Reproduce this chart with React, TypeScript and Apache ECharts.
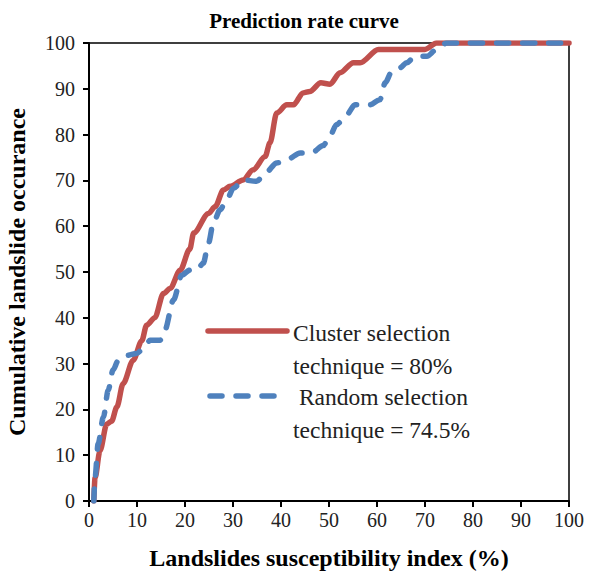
import React, { useEffect, useRef } from "react";
import * as echarts from "echarts";

const xTicks = [0, 10, 20, 30, 40, 50, 60, 70, 80, 90, 100];
const yTicks = [0, 10, 20, 30, 40, 50, 60, 70, 80, 90, 100];

const clusterData: number[][] = [
  [1, 0], [1.25, 5], [2.3, 11], [3.7, 16.8], [4.7, 17.4], [5.8, 20.5], [7.1, 25.6],
  [9.2, 30.7], [11, 35], [12, 38.4], [13.7, 40], [15.5, 45.3], [16.9, 46.4], [19, 50.4],
  [21, 55], [21.8, 58.5], [24.9, 62.8], [26.3, 64.3], [28, 67.9], [29.4, 68.7],
  [32.1, 70.1], [34.2, 72.3], [36.7, 75.2], [37.7, 78.2], [39.1, 84.7], [41.2, 86.5],
  [42.6, 86.5], [44.6, 89.1], [46, 89.4], [48.3, 91.3], [50.2, 91], [52.3, 93.5],
  [55.1, 95.7], [56.5, 95.7], [60.3, 98.6], [70, 98.6], [72.4, 100], [100, 100],
];

const randomData: number[][] = [
  [1, 0], [1.25, 5], [1.9, 12.5], [3, 18.3], [4, 24.2], [5, 28.6], [6.1, 30.7],
  [7.9, 31.8], [9.9, 32.2], [11.7, 33.7], [12.7, 35.1], [14.8, 35.1], [15.8, 37.3],
  [17.6, 43.9], [19.3, 49.3], [21, 50.4], [22.4, 50.4], [23.8, 51.9], [24.9, 56.3],
  [25.9, 60.7], [27.3, 63.6], [28.7, 65.8], [30.1, 68.3], [32.1, 70.1], [34.9, 69.8],
  [37, 71.9], [39.1, 73.8], [41.2, 74.5], [44, 76], [46.5, 76.1], [48.8, 77.6],
  [50.2, 79.8], [51.6, 82.2], [53.7, 84.4], [55.4, 86.5], [58.5, 86.5], [60.6, 87.6],
  [61.7, 91.3], [63.1, 93.8], [64.8, 94.6], [66.2, 95.7], [67.9, 97.1], [70.4, 97.1],
  [72.4, 98.6], [74.5, 100], [100, 100],
];

const seriesNames = ["Cluster selection technique = 80%", "Random selection technique = 74.5%"];
const legendLines = [
  ["Cluster selection", "technique = 80%"],
  [" Random selection", "technique = 74.5%"],
];

const RED = "#C0504D";
const BLUE = "#4F81BD";
const FONT = "Liberation Serif";

export default function App() {
  const ref = useRef<HTMLDivElement>(null);
  useEffect(() => {
    if (!ref.current) return;
    const chart = echarts.init(ref.current, null, { renderer: "svg" });
    chart.setOption({
      animation: false,
      backgroundColor: "#fff",
      title: {
        text: "Prediction rate curve",
        left: 299,
        top: 5,
        textAlign: "center",
        textStyle: { fontFamily: FONT, fontWeight: "bold", fontSize: 21, color: "#000" },
      },
      grid: {
        left: 89,
        right: 21,
        top: 43,
        bottom: 74,
        containLabel: false,
        outerBoundsMode: "none",
        show: true,
        borderColor: "#000",
        borderWidth: 1.5,
        backgroundColor: "transparent",
      },
      xAxis: {
        type: "value",
        min: xTicks[0],
        max: xTicks[xTicks.length - 1],
        interval: 10,
        name: "Landslides susceptibility index (%)",
        nameLocation: "middle",
        nameGap: 45,
        nameTextStyle: { fontFamily: FONT, fontWeight: "bold", fontSize: 24, color: "#000" },
        axisLine: { show: true, lineStyle: { color: "#000", width: 2 } },
        axisTick: { show: true, length: 6, lineStyle: { color: "#000", width: 2 } },
        axisLabel: { fontFamily: FONT, fontSize: 20, color: "#222", margin: 9 },
        splitLine: { show: false },
      },
      yAxis: {
        type: "value",
        min: yTicks[0],
        max: yTicks[yTicks.length - 1],
        interval: 10,
        name: "Cumulative landslide occurance",
        nameLocation: "middle",
        nameGap: 60,
        nameTextStyle: { fontFamily: FONT, fontWeight: "bold", fontSize: 24, color: "#000" },
        axisLine: { show: true, lineStyle: { color: "#000", width: 2 } },
        axisTick: { show: true, length: 6, lineStyle: { color: "#000", width: 2 } },
        axisLabel: { fontFamily: FONT, fontSize: 20, color: "#222", margin: 14 },
        splitLine: { show: false },
      },
      series: [
        {
          name: seriesNames[0],
          type: "line",
          data: clusterData,
          showSymbol: false,
          smooth: 0.3,
          smoothMonotone: "x",
          lineStyle: { color: RED, width: 5.5, cap: "round", join: "round" },
          z: 2,
        },
        {
          name: seriesNames[1],
          type: "line",
          data: randomData,
          showSymbol: false,
          smooth: 0.3,
          smoothMonotone: "x",
          lineStyle: { color: BLUE, width: 5.5, type: [12, 14], cap: "round", join: "round" },
          z: 3,
        },
      ],
      graphic: [
        {
          type: "line",
          shape: { x1: 208, y1: 331, x2: 287, y2: 331 },
          style: { stroke: RED, lineWidth: 5.5, lineCap: "round" },
        },
        {
          type: "line",
          shape: { x1: 210, y1: 396, x2: 282, y2: 396 },
          style: { stroke: BLUE, lineWidth: 5.5, lineCap: "round", lineDash: [12, 14] },
        },
        ...legendLines.flatMap((lines, i) =>
          lines.map((t, j) => ({
            type: "text",
            x: 293,
            y: 333 + i * 64 + j * 33,
            style: {
              text: t,
              fontFamily: FONT,
              fontSize: 23.5,
              fill: "#222",
              textVerticalAlign: "middle",
              verticalAlign: "middle",
            },
          }))
        ),
      ],
    });
    return () => chart.dispose();
  }, []);
  return <div ref={ref} style={{ width: 590, height: 575, position: "absolute", left: 0, top: 0 }} />;
}
